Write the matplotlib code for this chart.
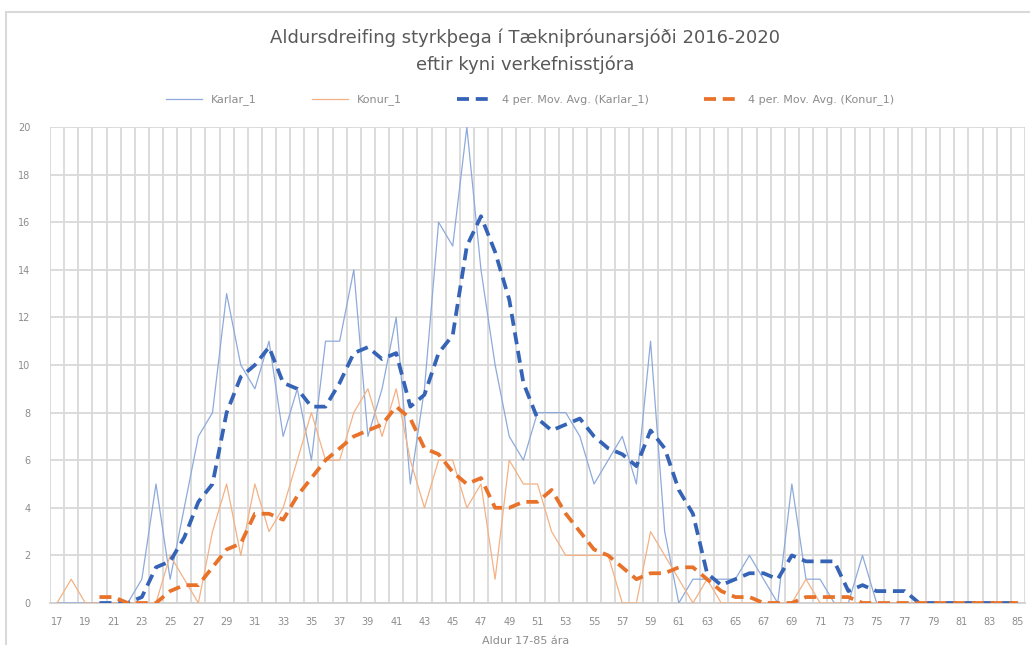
import pandas as pd
import matplotlib.pyplot as plt
from matplotlib.patches import Rectangle


# Gögn: aldur 17-85 ára
aldur = list(range(17, 86))
karlar = [0, 0, 0, 0, 0, 0, 1, 5, 1, 4, 7, 8, 13, 10, 9, 11, 7, 9, 6, 11,
          11, 14, 7, 9, 12, 5, 9, 16, 15, 20, 14, 10, 7, 6, 8, 8, 8, 7, 5, 6,
          7, 5, 11, 3, 0, 1, 1, 1, 1, 2, 1, 0, 5, 1, 1, 0, 0, 2, 0, 0,
          0, 0, 0, 0, 0, 0, 0, 0, 0]
konur = [0, 1, 0, 0, 0, 0, 0, 0, 2, 1, 0, 3, 5, 2, 5, 3, 4, 6, 8, 6,
         6, 8, 9, 7, 9, 6, 4, 6, 6, 4, 5, 1, 6, 5, 5, 3, 2, 2, 2, 2,
         0, 0, 3, 2, 1, 0, 1, 0, 0, 0, 0, 0, 0, 1, 0, 0, 0, 0, 0, 0,
         0, 0, 0, 0, 0, 0, 0, 0, 0]

df = pd.DataFrame({'Aldur': aldur, 'Karlar_1': karlar, 'Konur_1': konur})
# 4 tímabila hlaupandi meðaltal (eins og trendline í Excel)
df['ma_karlar'] = df['Karlar_1'].rolling(4).mean()
df['ma_konur'] = df['Konur_1'].rolling(4).mean()

grar = '#595959'
ljos_blar = '#8eaadb'
ljos_appelsinu = '#f4b183'
blar = '#3563b5'
appelsinu = '#e8722a'

fig = plt.figure(figsize=(10.3, 6.45), dpi=100)
ax = fig.add_axes([50 / 1030, 1 - 603 / 645, 975 / 1030, 476 / 645])

x = list(range(len(aldur)))
ax.plot(x, df['Karlar_1'], color=ljos_blar, lw=0.9, label='Karlar_1', zorder=3)
ax.plot(x, df['Konur_1'], color=ljos_appelsinu, lw=0.9, label='Konur_1', zorder=3)
ax.plot(x, df['ma_karlar'], color=blar, lw=2.7, dashes=(3.2, 1.8),
        label='4 per. Mov. Avg. (Karlar_1)', zorder=4)
ax.plot(x, df['ma_konur'], color=appelsinu, lw=2.7, dashes=(3.2, 1.8),
        label='4 per. Mov. Avg. (Konur_1)', zorder=4)

ax.set_xlim(-0.5, len(aldur) - 0.5)
ax.set_ylim(0, 20)
ax.set_yticks(range(0, 21, 2))
ax.set_xticks(x[::2])
ax.set_xticklabels([str(a) for a in aldur[::2]])
ax.set_xticks([i - 0.5 for i in range(len(aldur) + 1)], minor=True)
ax.grid(axis='y', which='major', color='#d9d9d9', lw=1.3, zorder=0)
ax.grid(axis='x', which='minor', color='#d9d9d9', lw=1.3, zorder=0)
ax.tick_params(axis='both', which='both', length=0, labelsize=7, labelcolor='#8c8c8c')
ax.tick_params(axis='x', pad=10)
ax.tick_params(axis='y', pad=14)
for s in ['top', 'right', 'left']:
    ax.spines[s].set_visible(False)
ax.spines['bottom'].set_color('#d0d0d0')
ax.spines['bottom'].set_linewidth(1.3)

fig.text(0.51, 1 - 38 / 645, 'Aldursdreifing styrkþega í Tækniþróunarsjóði 2016-2020',
         ha='center', va='center', fontsize=13, color=grar)
fig.text(0.51, 1 - 65 / 645, 'eftir kyni verkefnisstjóra',
         ha='center', va='center', fontsize=13, color=grar)

fig.legend(loc='center', bbox_to_anchor=(0.515, 1 - 100 / 645), ncol=4, frameon=False,
           fontsize=8, labelcolor='#8c8c8c', handlelength=3.2, columnspacing=5)

fig.text(0.51, 1 - 641 / 645, 'Aldur 17-85 ára', ha='center', va='center',
         fontsize=8, color='#8c8c8c')

# rammi utan um myndina
fig.add_artist(Rectangle((6 / 1030, -0.1), 1.2, 1 - 12 / 645 + 0.1,
                         transform=fig.transFigure, fill=False, ec='#d9d9d9', lw=1.5))

plt.savefig('out.png')
